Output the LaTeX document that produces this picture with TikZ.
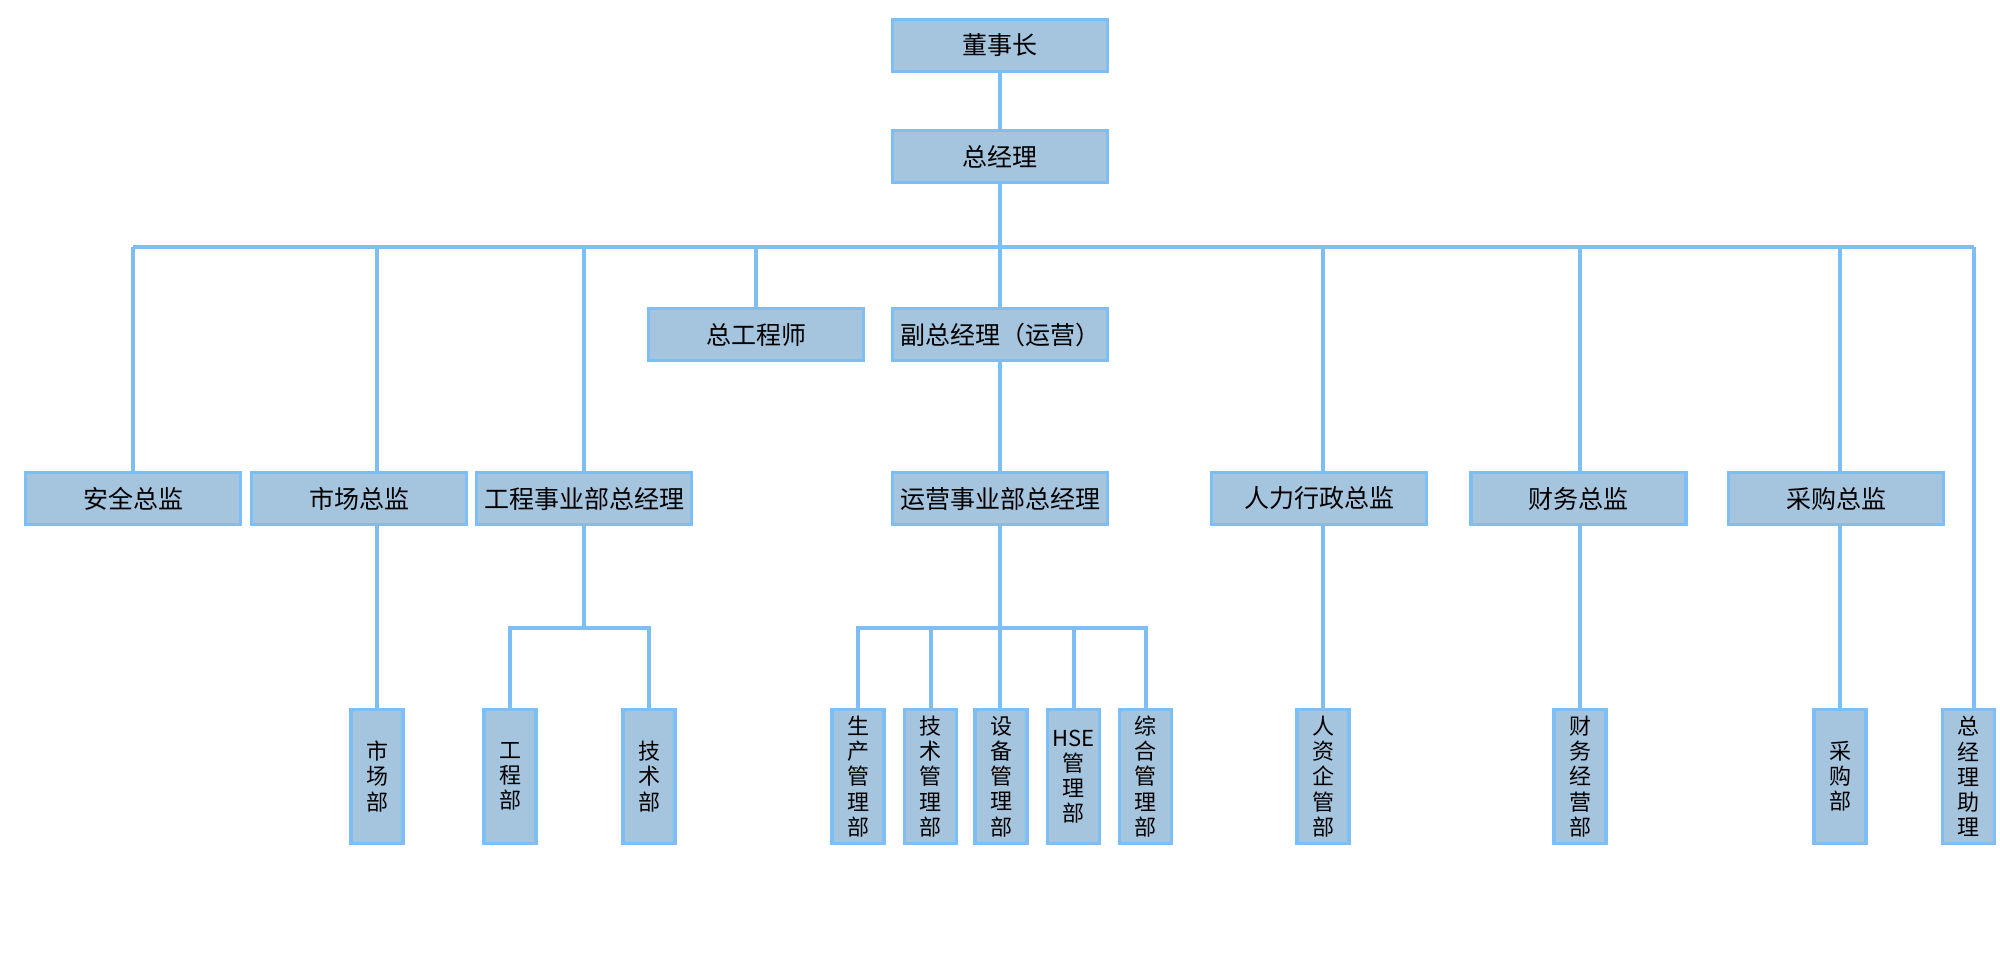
\documentclass[tikz,border=0pt]{standalone}
\usepackage{fontspec}
\newfontfamily\cjk{Noto Sans CJK SC}
\definecolor{boxfill}{RGB}{165,196,222}
\definecolor{linec}{RGB}{125,190,245}
\begin{document}
\begin{tikzpicture}[x=0.5pt,y=-0.5pt,
  hbox/.style={draw=linec, fill=boxfill, line width=1.6pt, minimum width=107.5pt, minimum height=26pt, inner sep=0pt, font=\cjk\fontsize{12.5}{14}\selectfont},
  vbox/.style={draw=linec, fill=boxfill, line width=1.6pt, minimum width=26pt, minimum height=67pt, inner sep=0pt, align=center, font=\cjk\fontsize{11}{12.6}\selectfont},
  conn/.style={draw=linec, line width=2pt}]
\useasboundingbox[fill=white] (0,0) rectangle (2000,960);
% level 1-2
\node[hbox] (dsz) at (1000,45.5) {董事长};
\node[hbox] (zjl) at (1000,156.5) {总经理};
\coordinate (busL) at (133,247);
\coordinate (busR) at (1974,247);
\node[hbox] (zgcs) at (756,334.5) {总工程师};
\node[hbox] (fzjl) at (1000,334.5) {副总经理（运营）};
% level 3
\node[hbox] (aqzj) at (133,498.5) {安全总监};
\node[hbox] (sczj) at (359,498.5) {市场总监};
\node[hbox] (gcsyb) at (584,498.5) {工程事业部总经理};
\node[hbox] (yysyb) at (1000,498.5) {运营事业部总经理};
\node[hbox] (rlxz) at (1319,498.5) {人力行政总监};
\node[hbox] (cwzj) at (1578.5,498.5) {财务总监};
\node[hbox] (cgzj) at (1836,498.5) {采购总监};
% level 4
\node[vbox] (scb) at (377,776.5) {市\\场\\部};
\node[vbox] (gcb) at (510,776.5) {工\\程\\部};
\node[vbox] (jsb) at (649,776.5) {技\\术\\部};
\node[vbox] (scglb) at (858,776.5) {生\\产\\管\\理\\部};
\node[vbox] (jsglb) at (930.5,776.5) {技\\术\\管\\理\\部};
\node[vbox] (sbglb) at (1001,776.5) {设\\备\\管\\理\\部};
\node[vbox] (hseb) at (1073.5,776.5) {HSE\\管\\理\\部};
\node[vbox] (zhglb) at (1145.5,776.5) {综\\合\\管\\理\\部};
\node[vbox] (rzqgb) at (1323,776.5) {人\\资\\企\\管\\部};
\node[vbox] (cwjyb) at (1580,776.5) {财\\务\\经\\营\\部};
\node[vbox] (cgb) at (1840,776.5) {采\\购\\部};
\node[vbox] (zjlzl) at (1968.5,776.5) {总\\经\\理\\助\\理};
\coordinate (gbus) at (584,628);
\coordinate (ybus) at (1000,628);
% connectors
\draw[conn] (dsz) -- (zjl);
\draw[conn] (zjl) -- (fzjl);
\draw[conn] (busL) -- (busR);
\draw[conn] (busL) -- (aqzj.north);
\draw[conn] (scb.north |- busL) -- (scb.north |- sczj.north);
\draw[conn] (scb.north |- sczj.south) -- (scb.north);
\draw[conn] (gcsyb.north |- busL) -- (gcsyb.north);
\draw[conn] (zgcs.north |- busL) -- (zgcs.north);
\draw[conn] (fzjl) -- (yysyb);
\draw[conn] (rzqgb.north |- busL) -- (rzqgb.north |- rlxz.north);
\draw[conn] (rzqgb.north |- rlxz.south) -- (rzqgb.north);
\draw[conn] (cwjyb.north |- busL) -- (cwjyb.north |- cwzj.north);
\draw[conn] (cwjyb.north |- cwzj.south) -- (cwjyb.north);
\draw[conn] (cgb.north |- busL) -- (cgb.north |- cgzj.north);
\draw[conn] (cgb.north |- cgzj.south) -- (cgb.north);
\draw[conn] (busR) -- (busR |- zjlzl.north);
% engineering sub-bus
\draw[conn] (gcsyb.south) -- (gbus);
\draw[conn] (gcb.north) |- (jsb.north |- gbus) -- (jsb.north);
% operations sub-bus
\draw[conn] (yysyb.south) -- (ybus);
\draw[conn] (scglb.north) |- (zhglb.north |- ybus) -- (zhglb.north);
\draw[conn] (jsglb.north |- ybus) -- (jsglb.north);
\draw[conn] (ybus) -- (ybus |- sbglb.north);
\draw[conn] (hseb.north |- ybus) -- (hseb.north);
\end{tikzpicture}
\end{document}
